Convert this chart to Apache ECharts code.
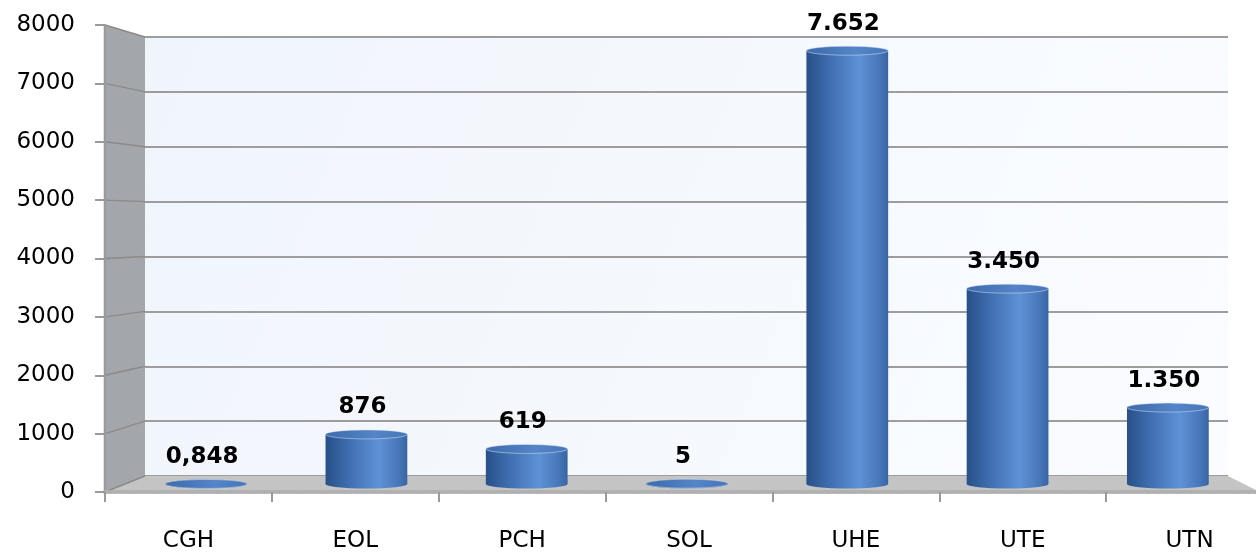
<!DOCTYPE html>
<html>
<head>
<meta charset="utf-8">
<script src="https://cdn.jsdelivr.net/npm/echarts@6/dist/echarts.min.js"></script>
<style>
html,body{margin:0;padding:0;background:#fff;}
#chart{width:1256px;height:555px;}
</style>
</head>
<body>
<div id="chart"></div>
<script>
// ---- data ----
const categories = ['CGH', 'EOL', 'PCH', 'SOL', 'UHE', 'UTE', 'UTN'];
const values = [0.848, 876, 619, 5, 7652, 3450, 1350];
const yMin = 0, yMax = 8000, yInterval = 1000;

// ---- layout (3D look: front plane, middle plane for bars, back wall) ----
const FRONT = { left: 105, width: 1168, top: 25, bottom: 63 };
const BACK = { left: 145, right: 28, top: 37, bottom: 79 };
const MID = { left: 126, right: 8, top: 31, bottom: 71 };
const FONT = '"DejaVu Sans", sans-serif';

function fmt(v) {
  if (v < 1) return v.toFixed(3).replace('.', ',');
  return String(Math.round(v)).replace(/\B(?=(\d{3})+(?!\d))/g, '.');
}

const chart = echarts.init(document.getElementById('chart'), null, { renderer: 'canvas' });

const bodyGrad = new echarts.graphic.LinearGradient(0, 0, 1, 0, [
  { offset: 0, color: '#284f88' },
  { offset: 0.3, color: '#4070b2' },
  { offset: 0.65, color: '#5e92d6' },
  { offset: 0.9, color: '#4676b8' },
  { offset: 1, color: '#3864a3' }
]);
const topGrad = new echarts.graphic.LinearGradient(0, 0, 1, 0, [
  { offset: 0, color: '#3c6aab' },
  { offset: 0.6, color: '#5585c8' },
  { offset: 1, color: '#4676b8' }
]);

const gridBase = { containLabel: false, outerBoundsMode: 'none' };

const option = {
  animation: false,
  grid: [
    Object.assign({ show: false }, gridBase, FRONT),
    Object.assign({
      show: true, borderWidth: 0, z: 0,
      backgroundColor: new echarts.graphic.LinearGradient(0, 0, 1, 1, [
        { offset: 0, color: '#f0f5fc' },
        { offset: 1, color: '#fafcff' }
      ])
    }, gridBase, BACK),
    Object.assign({ show: false }, gridBase, MID)
  ],
  xAxis: [
    {
      type: 'category', gridIndex: 0, data: categories,
      axisLine: { show: true, lineStyle: { color: '#b0b0b0', width: 4, type: [1, 2] } },
      axisTick: { show: true, length: 10, alignWithLabel: false, lineStyle: { color: '#9a9a9a', width: 2 } },
      axisLabel: { margin: 38, color: '#000', fontSize: 23, fontFamily: FONT },
      splitLine: { show: false }, z: 3
    },
    { type: 'category', gridIndex: 1, data: categories, show: false },
    { type: 'category', gridIndex: 2, data: categories, show: false }
  ],
  yAxis: [
    {
      type: 'value', gridIndex: 0, min: yMin, max: yMax, interval: yInterval,
      axisLine: { show: true, lineStyle: { color: '#9a9a9a', width: 2 } },
      axisTick: { show: true, length: 10, lineStyle: { color: '#9a9a9a', width: 2 } },
      axisLabel: { margin: 30, color: '#000', fontSize: 23, fontFamily: FONT, formatter: v => String(v) },
      splitLine: { show: false }, z: 3
    },
    {
      type: 'value', gridIndex: 1, min: yMin, max: yMax, interval: yInterval,
      axisLine: { show: false }, axisTick: { show: false }, axisLabel: { show: false },
      splitLine: { show: true, lineStyle: { color: '#9d9d9d', width: 2 } }
    },
    {
      type: 'value', gridIndex: 2, min: yMin, max: yMax, interval: yInterval, show: false,
      splitLine: { show: false }
    }
  ],
  series: [{
    type: 'custom',
    xAxisIndex: 2, yAxisIndex: 2,
    z: 10,
    data: categories.map((c, i) => [i, values[i]]),
    renderItem: function (params, api) {
      const top = api.coord([api.value(0), api.value(1)]);
      const base = api.coord([api.value(0), 0]);
      const band = api.size([1, 0])[0];
      const rx = band * 0.255;
      const ry = 4.5;
      const cx = top[0];
      const children = [];
      children.push({
        type: 'circle', shape: { cx: 0, cy: 0, r: rx }, x: cx, y: base[1], scaleY: ry / rx,
        style: { fill: bodyGrad }
      });
      if (base[1] - top[1] > 0.5) {
        children.push({
          type: 'rect', shape: { x: cx - rx, y: top[1], width: rx * 2, height: base[1] - top[1] },
          style: { fill: bodyGrad }
        });
      }
      children.push({
        type: 'circle', shape: { cx: 0, cy: 0, r: rx }, x: cx, y: top[1], scaleY: ry / rx,
        style: { fill: topGrad, stroke: 'rgba(220,230,245,0.5)', lineWidth: 1 }
      });
      children.push({
        type: 'text', x: cx - 4, y: top[1] - 27,
        style: {
          text: fmt(api.value(1)), fill: '#000', align: 'center', verticalAlign: 'middle',
          fontSize: 23, fontWeight: 'bold', fontFamily: FONT
        }
      });
      return { type: 'group', children: children };
    }
  }]
};

chart.setOption(option);

// side wall and floor built from the axes' own scales
function drawWalls() {
  const W = chart.getWidth();
  const fL = FRONT.left, bL = BACK.left;
  const fR = W, bR = W - BACK.right;
  const fy = v => chart.convertToPixel({ yAxisIndex: 0 }, v);
  const by = v => chart.convertToPixel({ yAxisIndex: 1 }, v);
  const els = [];
  els.push({
    type: 'polygon', z: 1,
    shape: { points: [[fL, fy(yMax)], [bL, by(yMax)], [bL, by(yMin)], [fL, fy(yMin)]] },
    style: { fill: '#a3a6aa' }
  });
  els.push({
    type: 'line', z: 2,
    shape: { x1: fL - 1, y1: fy(yMax), x2: fL - 1, y2: fy(yMin) },
    style: { stroke: '#c8c8c8', lineWidth: 1 }
  });
  els.push({
    type: 'polygon', z: 1,
    shape: { points: [[fL, fy(yMin)], [bL, by(yMin)], [bR, by(yMin)], [fR, fy(yMin) - 2], [fR, fy(yMin)]] },
    style: { fill: '#c4c4c4' }
  });
  for (let v = yMin; v <= yMax; v += yInterval) {
    els.push({
      type: 'line', z: 2,
      shape: { x1: fL, y1: fy(v), x2: bL, y2: by(v) },
      style: { stroke: '#8a8a8a', lineWidth: 1.5 }
    });
  }
  chart.setOption({ graphic: { elements: els } });
}
drawWalls();
</script>
</body>
</html>
